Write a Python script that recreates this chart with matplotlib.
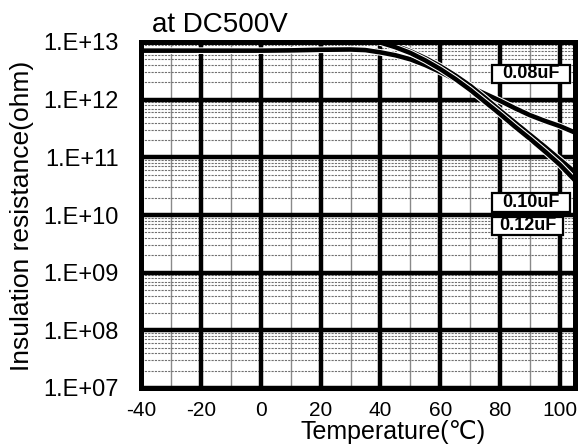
import matplotlib
matplotlib.use("Agg")
import matplotlib.pyplot as plt
import matplotlib.patheffects as pe
from matplotlib.patches import Rectangle

# ---- data ----
temp_008 = [-40, -20, 0, 10, 20, 30, 35, 40, 45, 50, 55, 60, 65, 70, 75, 80, 85, 90, 95, 100, 105]
ir_008 = [7.08e12, 7.08e12, 7.08e12, 7.16e12, 7.33e12, 7.41e12, 7.24e12, 6.61e12, 5.89e12, 5.01e12,
          3.98e12, 3.02e12, 2.24e12, 1.66e12, 1.26e12, 9.55e11, 7.08e11, 5.37e11, 4.27e11, 3.47e11, 2.69e11]

temp_hi = [30, 35, 40, 45, 50, 55, 60, 65, 70, 75, 80, 85, 90, 95, 100, 105]
ir_010 = [1.78e13, 1.32e13, 1.05e13, 8.71e12, 6.92e12, 5.25e12, 3.80e12, 2.63e12, 1.74e12, 1.07e12,
          6.46e11, 3.98e11, 2.45e11, 1.51e11, 9.12e10, 5.50e10]
ir_012 = [1.66e13, 1.26e13, 9.77e12, 8.13e12, 6.46e12, 4.79e12, 3.39e12, 2.29e12, 1.48e12, 9.12e11,
          5.62e11, 3.39e11, 2.09e11, 1.26e11, 7.41e10, 3.98e10]

x_ticks = [-40, -20, 0, 20, 40, 60, 80, 100]
y_ticks = [1e7, 1e8, 1e9, 1e10, 1e11, 1e12, 1e13]
y_tick_labels = ["1.E+07", "1.E+08", "1.E+09", "1.E+10", "1.E+11", "1.E+12", "1.E+13"]
series_labels = ["0.08uF", "0.10uF", "0.12uF"]

FONT = ["Liberation Sans", "DejaVu Sans"]
plt.rcParams["font.family"] = FONT

W, H = 578, 446
L, R, T, B = 141, 575, 42, 388
fig = plt.figure(figsize=(W/100, H/100), dpi=100)
ax = fig.add_axes([L/W, 1 - B/H, (R-L)/W, (B-T)/H])
ax.set_yscale("log")
ax.set_xlim(-40, 105)
ax.set_ylim(1e7, 1e13)

# grid
for xv in range(-30, 105, 20):
    ax.axvline(xv, color="#8a8a8a", lw=1.0, zorder=1)
for xv in range(-20, 105, 20):
    ax.axvline(xv, color="black", lw=3.2, zorder=2)
for dec in range(7, 13):
    for m in range(2, 10):
        ax.axhline(m * 10.0**dec, color="#707070", lw=0.8, ls=(0, (2, 1)), zorder=1)
for yv in y_ticks:
    ax.axhline(yv, color="black", lw=3.2, zorder=2)

stroke = [pe.Stroke(linewidth=4.8, foreground="white"), pe.Normal()]
for xs, ys in [(temp_008, ir_008), (temp_hi, ir_010), (temp_hi, ir_012)]:
    ax.plot(xs, ys, color="black", lw=3.3, zorder=4, path_effects=stroke,
            solid_capstyle="butt")

for s in ax.spines.values():
    s.set_linewidth(3.6)
    s.set_zorder(6)

ax.set_xticks(x_ticks)
ax.set_xticklabels([str(v) for v in x_ticks], fontsize=15)
ax.set_yticks(y_ticks)
ax.set_yticklabels(y_tick_labels, fontsize=17)
ax.minorticks_off()
ax.tick_params(axis="x", length=0, pad=9)
ax.tick_params(axis="y", length=0, pad=16)

# label boxes (pixel extents: x0, x1, y0, y1)
boxes = [(492, 570, 65, 83), (492, 570, 193, 212), (492, 563, 217, 235)]
for (x0, x1, y0, y1), lab in zip(boxes, series_labels):
    fx0 = (x0 - L) / (R - L)
    fx1 = (x1 - L) / (R - L)
    fy0 = (B - y1) / (B - T)
    fy1 = (B - y0) / (B - T)
    ax.add_patch(Rectangle((fx0, fy0), fx1 - fx0, fy1 - fy0, transform=ax.transAxes,
                           fc="white", ec="black", lw=1.6, zorder=8, clip_on=False))
    ax.text((fx0 + fx1) / 2, (fy0 + fy1) / 2, lab, transform=ax.transAxes, fontsize=13,
            fontweight="bold", ha="center", va="center", zorder=9)

fig.text(152/W, 1 - 25/H, "at DC500V", fontsize=20, ha="left", va="center")
fig.text(22/W, 1 - 216/H, "Insulation resistance(ohm)", fontsize=19, rotation=90,
         ha="center", va="center")
fig.text(393/W, 1 - 432/H, "Temperature(\u2103)", fontsize=18, ha="center", va="center")

fig.savefig("out.png", dpi=100)
